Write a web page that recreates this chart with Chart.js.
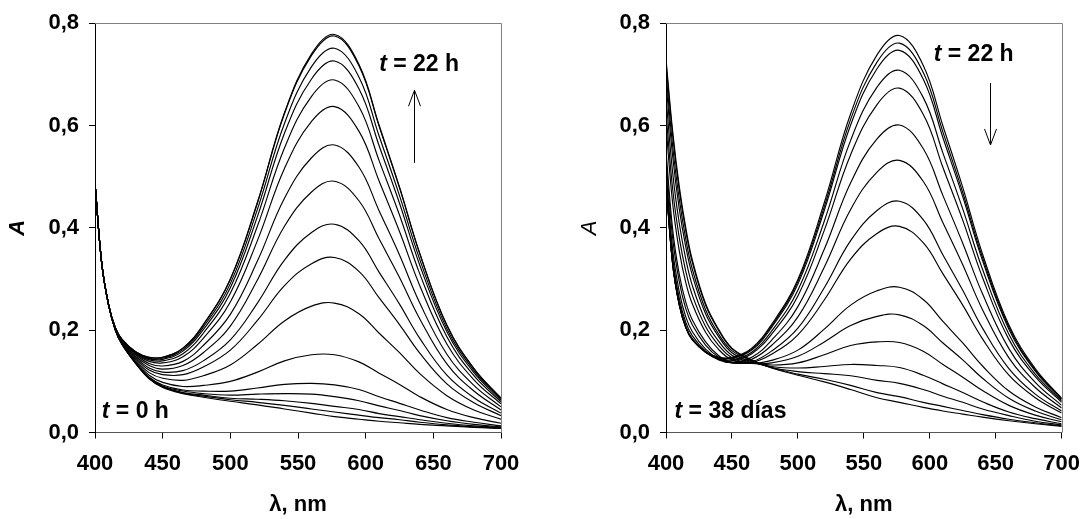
<!DOCTYPE html>
<html>
<head>
<meta charset="utf-8">
<script src="https://cdn.jsdelivr.net/npm/chart.js@4"></script>
<style>
  html, body { margin: 0; padding: 0; background: #fff; overflow: hidden; }
  .panel { position: absolute; top: 0; width: 546px; height: 519px; }
</style>
</head>
<body>
<div class="panel" style="left:0"><canvas id="left" width="546" height="519"></canvas></div>
<div class="panel" style="left:546px"><canvas id="right" width="546" height="519"></canvas></div>
<script>
// wavelength grid (nm) shared by every spectrum
const wavelengths = [400, 405, 410, 415, 420, 430, 440, 450, 465, 480, 500, 520, 540, 560, 577, 595, 610, 625, 640, 660, 680, 700];

const xTickValues = [400, 450, 500, 550, 600, 650, 700];
const yTickValues = [0, 0.2, 0.4, 0.6, 0.8];

// left panel: t = 0 h (first) ... t = 22 h (last)
const spectraGrowth = [
  [0.488,0.330,0.250,0.200,0.172,0.135,0.105,0.088,0.076,0.069,0.061,0.054,0.046,0.038,0.031,0.026,0.022,0.019,0.016,0.013,0.010,0.008],
  [0.488,0.330,0.250,0.200,0.172,0.135,0.106,0.089,0.077,0.071,0.064,0.059,0.053,0.046,0.040,0.034,0.029,0.025,0.020,0.015,0.011,0.009],
  [0.488,0.330,0.250,0.200,0.172,0.136,0.106,0.090,0.078,0.073,0.067,0.065,0.062,0.057,0.051,0.045,0.037,0.031,0.025,0.018,0.013,0.010],
  [0.488,0.330,0.250,0.200,0.173,0.136,0.107,0.091,0.081,0.076,0.073,0.075,0.076,0.075,0.070,0.062,0.052,0.043,0.033,0.023,0.016,0.011],
  [0.488,0.330,0.250,0.200,0.173,0.137,0.108,0.093,0.083,0.081,0.081,0.087,0.094,0.096,0.093,0.084,0.070,0.057,0.044,0.029,0.020,0.013],
  [0.488,0.330,0.250,0.201,0.174,0.139,0.112,0.098,0.090,0.092,0.100,0.118,0.140,0.152,0.152,0.138,0.116,0.094,0.070,0.045,0.029,0.018],
  [0.488,0.330,0.250,0.202,0.175,0.142,0.117,0.106,0.102,0.111,0.132,0.172,0.218,0.247,0.253,0.232,0.194,0.156,0.115,0.072,0.044,0.026],
  [0.488,0.330,0.250,0.202,0.176,0.145,0.122,0.113,0.113,0.128,0.161,0.219,0.287,0.330,0.342,0.315,0.263,0.211,0.155,0.095,0.058,0.033],
  [0.488,0.330,0.250,0.203,0.177,0.147,0.126,0.118,0.121,0.140,0.181,0.253,0.337,0.391,0.407,0.375,0.313,0.251,0.184,0.112,0.068,0.038],
  [0.488,0.330,0.250,0.203,0.178,0.149,0.131,0.124,0.131,0.156,0.208,0.298,0.403,0.470,0.491,0.453,0.378,0.303,0.222,0.134,0.081,0.044],
  [0.488,0.330,0.250,0.204,0.179,0.152,0.135,0.130,0.139,0.170,0.231,0.335,0.458,0.537,0.562,0.519,0.433,0.347,0.253,0.153,0.092,0.050],
  [0.488,0.330,0.250,0.204,0.180,0.154,0.139,0.136,0.148,0.184,0.255,0.375,0.516,0.608,0.637,0.589,0.491,0.393,0.287,0.173,0.103,0.056],
  [0.488,0.330,0.250,0.205,0.181,0.155,0.142,0.140,0.154,0.194,0.272,0.403,0.556,0.657,0.689,0.637,0.531,0.425,0.310,0.187,0.111,0.060],
  [0.488,0.330,0.250,0.205,0.181,0.157,0.144,0.143,0.159,0.201,0.283,0.422,0.585,0.691,0.726,0.672,0.560,0.448,0.327,0.197,0.117,0.063],
  [0.488,0.330,0.250,0.205,0.181,0.157,0.145,0.145,0.162,0.206,0.291,0.436,0.604,0.715,0.751,0.695,0.579,0.463,0.338,0.203,0.121,0.065],
  [0.488,0.330,0.250,0.205,0.182,0.158,0.147,0.147,0.165,0.210,0.299,0.448,0.623,0.737,0.775,0.717,0.598,0.478,0.349,0.209,0.125,0.067],
  [0.488,0.330,0.250,0.205,0.182,0.158,0.147,0.147,0.165,0.211,0.300,0.450,0.625,0.740,0.778,0.720,0.600,0.480,0.350,0.210,0.125,0.067]
];

// right panel: t = 38 dias (first) ... t = 22 h (last)
const spectraDecay = [
  [0.730,0.590,0.482,0.400,0.337,0.252,0.201,0.165,0.142,0.126,0.112,0.099,0.084,0.068,0.059,0.049,0.042,0.036,0.030,0.023,0.017,0.012],
  [0.722,0.582,0.475,0.394,0.332,0.249,0.199,0.164,0.141,0.127,0.114,0.104,0.092,0.078,0.070,0.059,0.051,0.043,0.035,0.026,0.019,0.013],
  [0.703,0.561,0.457,0.378,0.319,0.240,0.192,0.160,0.140,0.127,0.119,0.115,0.111,0.102,0.096,0.084,0.071,0.059,0.046,0.033,0.022,0.015],
  [0.684,0.541,0.438,0.363,0.307,0.232,0.187,0.156,0.138,0.129,0.126,0.129,0.133,0.131,0.127,0.112,0.095,0.078,0.060,0.040,0.027,0.017],
  [0.655,0.509,0.410,0.339,0.287,0.219,0.178,0.151,0.137,0.132,0.136,0.152,0.170,0.177,0.176,0.159,0.133,0.108,0.082,0.053,0.034,0.021],
  [0.625,0.477,0.382,0.315,0.268,0.207,0.170,0.146,0.135,0.136,0.149,0.177,0.209,0.227,0.230,0.209,0.175,0.142,0.106,0.067,0.042,0.025],
  [0.599,0.449,0.356,0.293,0.251,0.196,0.162,0.142,0.135,0.141,0.161,0.202,0.249,0.277,0.284,0.260,0.217,0.175,0.130,0.081,0.050,0.029],
  [0.551,0.398,0.310,0.255,0.220,0.177,0.150,0.137,0.137,0.153,0.191,0.259,0.339,0.389,0.403,0.371,0.310,0.249,0.183,0.112,0.068,0.038],
  [0.535,0.381,0.296,0.242,0.210,0.171,0.147,0.136,0.138,0.159,0.204,0.283,0.375,0.434,0.452,0.416,0.347,0.278,0.204,0.125,0.075,0.042],
  [0.515,0.359,0.276,0.226,0.197,0.163,0.144,0.136,0.143,0.170,0.226,0.323,0.436,0.509,0.532,0.491,0.410,0.328,0.240,0.146,0.088,0.048],
  [0.501,0.344,0.263,0.215,0.189,0.159,0.142,0.137,0.147,0.180,0.246,0.358,0.488,0.574,0.601,0.555,0.463,0.370,0.271,0.164,0.098,0.053],
  [0.493,0.335,0.254,0.208,0.183,0.157,0.143,0.140,0.154,0.192,0.267,0.395,0.543,0.641,0.673,0.622,0.518,0.415,0.303,0.182,0.109,0.059],
  [0.490,0.332,0.252,0.206,0.182,0.157,0.144,0.142,0.157,0.198,0.278,0.413,0.571,0.675,0.708,0.655,0.546,0.437,0.319,0.192,0.114,0.062],
  [0.488,0.330,0.250,0.205,0.181,0.157,0.145,0.145,0.161,0.205,0.290,0.434,0.601,0.711,0.747,0.691,0.576,0.461,0.336,0.202,0.120,0.065],
  [0.488,0.330,0.250,0.205,0.181,0.158,0.146,0.146,0.163,0.208,0.295,0.441,0.612,0.724,0.761,0.704,0.587,0.469,0.342,0.206,0.122,0.066],
  [0.488,0.330,0.250,0.205,0.182,0.158,0.147,0.147,0.165,0.211,0.299,0.449,0.623,0.738,0.776,0.718,0.599,0.479,0.349,0.210,0.125,0.067]
];

const FONT = '"Liberation Sans", Arial, sans-serif';

function toPoints(values) {
  return values.map((v, i) => ({ x: wavelengths[i], y: v }));
}

// grey top/right edges of the plot box
const framePlugin = {
  id: 'frame',
  afterDraw(chart) {
    const { ctx, chartArea: a } = chart;
    ctx.save();
    ctx.strokeStyle = '#808080';
    ctx.lineWidth = 1;
    ctx.beginPath();
    ctx.moveTo(a.left, Math.round(a.top) + 0.5);
    ctx.lineTo(Math.round(a.right) + 0.5, Math.round(a.top) + 0.5);
    ctx.lineTo(Math.round(a.right) + 0.5, a.bottom);
    ctx.stroke();
    ctx.restore();
  }
};

// "t = ..." labels and the arrow, placed in data units
const notesPlugin = {
  id: 'notes',
  afterDraw(chart, args, opts) {
    const { ctx, scales: { x, y } } = chart;
    ctx.save();
    ctx.fillStyle = '#000';
    ctx.textBaseline = 'middle';
    ctx.textAlign = 'left';
    for (const n of opts.labels) {
      let px = x.getPixelForValue(n.x);
      const py = y.getPixelForValue(n.y);
      ctx.font = 'italic bold 23px ' + FONT;
      ctx.fillText('t', px, py);
      px += ctx.measureText('t').width;
      ctx.font = 'bold 23px ' + FONT;
      ctx.fillText(n.text, px, py);
    }
    const ar = opts.arrow;
    const ax = Math.round(x.getPixelForValue(ar.x)) + 0.5;
    const y0 = y.getPixelForValue(ar.from);
    const y1 = y.getPixelForValue(ar.to);
    const dir = Math.sign(y1 - y0);
    ctx.strokeStyle = '#000';
    ctx.lineWidth = 1;
    ctx.beginPath();
    ctx.moveTo(ax, y0);
    ctx.lineTo(ax, y1);
    ctx.moveTo(ax - 6, y1 - dir * 16);
    ctx.lineTo(ax, y1);
    ctx.lineTo(ax + 6, y1 - dir * 16);
    ctx.stroke();
    ctx.restore();
  }
};

function makeChart(id, spectra, opt) {
  return new Chart(document.getElementById(id), {
    type: 'line',
    data: {
      datasets: spectra.map(s => ({
        data: toPoints(s),
        borderColor: '#000',
        borderWidth: 1.15,
        pointRadius: 0,
        fill: false,
        tension: 0.4
      }))
    },
    options: {
      responsive: false,
      animation: false,
      layout: { padding: { left: 0, top: 23, right: opt.padRight, bottom: 0 } },
      plugins: {
        legend: { display: false },
        tooltip: { enabled: false },
        notes: opt.notes
      },
      scales: {
        x: {
          type: 'linear',
          min: 400,
          max: 700,
          afterBuildTicks: s => { s.ticks = xTickValues.map(v => ({ value: v })); },
          afterFit: s => { s.height = 86.5; },
          ticks: { color: '#000', padding: 12, maxRotation: 0, font: { family: FONT, size: 22, weight: 'bold' } },
          grid: { drawOnChartArea: false, drawTicks: true, tickLength: 6, tickColor: '#000' },
          border: { color: '#555', width: 1 },
          title: {
            display: true, text: 'λ, nm', color: '#000',
            font: { family: FONT, size: 22, weight: 'bold' },
            padding: { top: 0, bottom: 1 }
          }
        },
        y: {
          min: 0,
          max: 0.8,
          afterBuildTicks: s => { s.ticks = yTickValues.map(v => ({ value: v })); },
          afterFit: s => { s.width = opt.yWidth; },
          ticks: {
            color: '#000', padding: 10,
            font: { family: FONT, size: 22, weight: 'bold' },
            callback: v => v.toFixed(1).replace('.', ',')
          },
          grid: { drawOnChartArea: false, drawTicks: true, tickLength: 6, tickColor: '#000' },
          border: { color: '#000', width: 1 },
          title: {
            display: true, text: 'A', color: '#000',
            font: { family: FONT, size: 22, style: 'italic', weight: opt.titleWeight },
            padding: { top: opt.titlePad, bottom: 0 }
          }
        }
      }
    },
    plugins: [framePlugin, notesPlugin]
  });
}

makeChart('left', spectraGrowth, {
  padRight: 45, yWidth: 95, titlePad: 4.3, titleWeight: 'bold',
  notes: {
    labels: [{ x: 610, y: 0.718, text: ' = 22 h' }, { x: 405, y: 0.041, text: ' = 0 h' }],
    arrow: { x: 635.5, from: 0.527, to: 0.669 }
  }
});

makeChart('right', spectraDecay, {
  padRight: 20, yWidth: 120, titlePad: 30.3, titleWeight: 'normal',
  notes: {
    labels: [{ x: 603, y: 0.738, text: ' = 22 h' }, { x: 406.5, y: 0.041, text: ' = 38 días' }],
    arrow: { x: 645.5, from: 0.683, to: 0.562 }
  }
});
</script>
</body>
</html>
